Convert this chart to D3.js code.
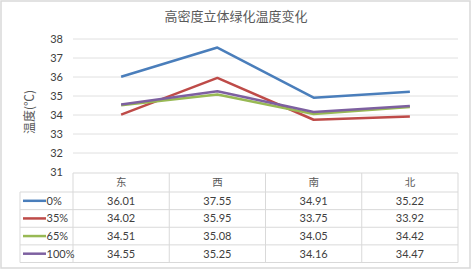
<!DOCTYPE html>
<html>
<head>
<meta charset="utf-8">
<script src="https://cdnjs.cloudflare.com/ajax/libs/d3/7.8.5/d3.min.js"></script>
<style>
  body { margin: 0; background: #fff; }
  svg { display: block; }
</style>
</head>
<body>
<div id="chart"></div>
<script>
// Data
const categories = ["东", "西", "南", "北"];
const seriesNames = ["0%", "35%", "65%", "100%"];
const seriesValues = [
  [36.01, 37.55, 34.91, 35.22],
  [34.02, 35.95, 33.75, 33.92],
  [34.51, 35.08, 34.05, 34.42],
  [34.55, 35.25, 34.16, 34.47]
];
const yTicks = [31, 32, 33, 34, 35, 36, 37, 38];
const colors = ["#4a7ebb", "#be4b48", "#98b954", "#7d60a0"];

const width = 471;
const height = 269;
const plotLeft = 73, plotRight = 458;
const plotTop = 39, plotBottom = 172;
const font = "Lato, 'Noto Sans CJK SC', sans-serif";

const svg = d3.select("#chart").append("svg")
  .attr("width", width)
  .attr("height", height);

// Outer frame
svg.append("rect")
  .attr("x", 1).attr("y", 1)
  .attr("width", width - 2).attr("height", height - 2)
  .attr("fill", "#fff")
  .attr("stroke", "#d9d9d9")
  .attr("stroke-width", 1.5);

// Title
svg.append("text")
  .attr("x", 236).attr("y", 21)
  .attr("text-anchor", "middle")
  .attr("font-family", "'Noto Sans CJK SC', sans-serif")
  .attr("font-size", 13)
  .attr("fill", "#595959")
  .text("高密度立体绿化温度变化");

// Scales
const x = d3.scaleBand()
  .domain(categories)
  .range([plotLeft, plotRight]);

const y = d3.scaleLinear()
  .domain([31, 38])
  .range([plotBottom, plotTop]);

// Grid lines
svg.append("g")
  .selectAll("line")
  .data(yTicks.filter(d => d > 31))
  .join("line")
    .attr("x1", plotLeft).attr("x2", plotRight)
    .attr("y1", d => y(d)).attr("y2", d => y(d))
    .attr("stroke", "#e0e0e0")
    .attr("stroke-width", 1);

// Y axis labels
const yAxis = d3.axisLeft(y)
  .tickValues(yTicks)
  .tickSize(0)
  .tickPadding(0)
  .tickFormat(d3.format("d"));

const yg = svg.append("g")
  .attr("transform", `translate(63,0)`)
  .call(yAxis);
yg.select(".domain").remove();
yg.selectAll("text")
  .attr("font-family", font)
  .attr("font-size", 11)
  .attr("fill", "#404040");

// Y axis title
svg.append("text")
  .attr("transform", "translate(30,112) rotate(-90)")
  .attr("text-anchor", "middle")
  .attr("dy", "0.35em")
  .attr("font-family", "'Noto Sans CJK SC', sans-serif")
  .attr("font-size", 12)
  .attr("fill", "#595959")
  .text("温度(℃)");

// Lines
const line = d3.line()
  .x((d, i) => x(categories[i]) + x.bandwidth() / 2)
  .y(d => y(d));

svg.append("g")
  .selectAll("path")
  .data(seriesValues)
  .join("path")
    .attr("d", line)
    .attr("fill", "none")
    .attr("stroke", (d, i) => colors[i])
    .attr("stroke-width", 2.5)
    .attr("stroke-linejoin", "round");

// Data table
const headerTop = 173, headerBottom = 192;
const tableBottom = 262.5;
const legendLeft = 20;
const rowY = d3.scaleBand()
  .domain(seriesNames)
  .range([headerBottom, tableBottom]);

const table = svg.append("g");
const gridColor = "#d9d9d9";

// horizontal lines
table.append("line")
  .attr("x1", plotLeft).attr("x2", plotRight)
  .attr("y1", headerTop).attr("y2", headerTop)
  .attr("stroke", gridColor);
table.selectAll(".hrow")
  .data(seriesNames)
  .join("line")
    .attr("class", "hrow")
    .attr("x1", legendLeft).attr("x2", plotRight)
    .attr("y1", d => rowY(d)).attr("y2", d => rowY(d))
    .attr("stroke", gridColor);
table.append("line")
  .attr("x1", legendLeft).attr("x2", plotRight)
  .attr("y1", tableBottom).attr("y2", tableBottom)
  .attr("stroke", gridColor);

// vertical lines
table.append("line")
  .attr("x1", legendLeft).attr("x2", legendLeft)
  .attr("y1", headerBottom).attr("y2", tableBottom)
  .attr("stroke", gridColor);
table.selectAll(".vcol")
  .data(categories)
  .join("line")
    .attr("class", "vcol")
    .attr("x1", d => x(d)).attr("x2", d => x(d))
    .attr("y1", headerTop).attr("y2", tableBottom)
    .attr("stroke", gridColor);
table.append("line")
  .attr("x1", plotRight).attr("x2", plotRight)
  .attr("y1", headerTop).attr("y2", tableBottom)
  .attr("stroke", gridColor);

// header labels
table.selectAll(".hdr")
  .data(categories)
  .join("text")
    .attr("class", "hdr")
    .attr("x", d => x(d) + x.bandwidth() / 2)
    .attr("y", (headerTop + headerBottom) / 2)
    .attr("dy", "0.35em")
    .attr("text-anchor", "middle")
    .attr("font-family", "'Noto Sans CJK SC', sans-serif")
    .attr("font-size", 10.5)
    .attr("fill", "#595959")
    .text(d => d);

// legend cells
const legendRows = table.selectAll(".leg")
  .data(seriesNames)
  .join("g")
    .attr("class", "leg")
    .attr("transform", d => `translate(0,${rowY(d) + rowY.bandwidth() / 2})`);
legendRows.append("line")
  .attr("x1", 23).attr("x2", 46)
  .attr("y1", 0).attr("y2", 0)
  .attr("stroke", (d, i) => colors[i])
  .attr("stroke-width", 2.5);
legendRows.append("text")
  .attr("x", 46.5)
  .attr("dy", "0.35em")
  .attr("font-family", font)
  .attr("font-size", 11)
  .attr("fill", "#404040")
  .text(d => d);

// value cells
seriesValues.forEach((vals, si) => {
  table.selectAll(".val" + si)
    .data(vals)
    .join("text")
      .attr("class", "val" + si)
      .attr("x", (d, i) => x(categories[i]) + x.bandwidth() / 2)
      .attr("y", rowY(seriesNames[si]) + rowY.bandwidth() / 2)
      .attr("dy", "0.35em")
      .attr("text-anchor", "middle")
      .attr("font-family", font)
      .attr("font-size", 11)
      .attr("fill", "#404040")
      .text(d => d3.format(".2f")(d));
});
</script>
</body>
</html>
